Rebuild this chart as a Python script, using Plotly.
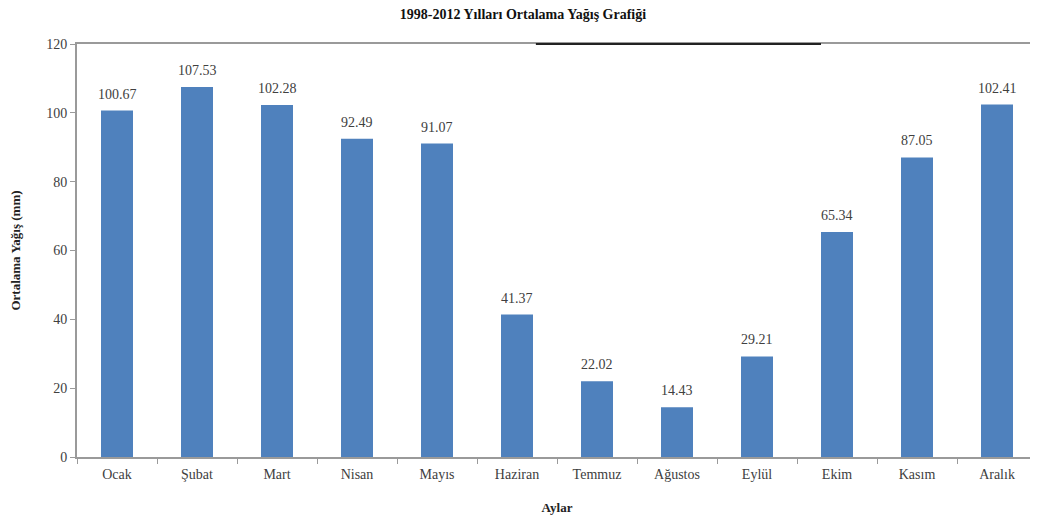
import plotly.graph_objects as go

months = ['Ocak', 'Şubat', 'Mart', 'Nisan', 'Mayıs', 'Haziran',
          'Temmuz', 'Ağustos', 'Eylül', 'Ekim', 'Kasım', 'Aralık']
rainfall = [100.67, 107.53, 102.28, 92.49, 91.07, 41.37,
            22.02, 14.43, 29.21, 65.34, 87.05, 102.41]
y_ticks = [0, 20, 40, 60, 80, 100, 120]

FONT = 'Liberation Serif'
TXT = '#404040'

fig = go.Figure()
fig.add_trace(go.Bar(
    x=months,
    y=rainfall,
    width=0.4,
    marker=dict(color='#4F81BD', line=dict(width=0)),
))

# value labels above each bar
for m, v in zip(months, rainfall):
    fig.add_annotation(x=m, y=v, text=f'{v:.2f}', showarrow=False,
                       yanchor='bottom', yshift=7,
                       font=dict(family=FONT, size=14, color=TXT))

# dark segment on the top border, as in the source image
fig.add_shape(type='line', xref='paper', yref='paper',
              x0=0.478, x1=0.775, y0=1, y1=1,
              line=dict(color='#222222', width=2))

# page body adds 8px margin, so the figure is a bit smaller than the window
fig.update_layout(
    width=1030, height=517,
    margin=dict(l=69, r=1, t=36, b=68, autoexpand=False),
    paper_bgcolor='white',
    plot_bgcolor='white',
    showlegend=False,
    title=dict(text='<b>1998-2012 Yılları Ortalama Yağış Grafiği</b>',
               x=0.5, xanchor='center', y=0.988, yanchor='middle',
               font=dict(family=FONT, size=14, color='#111111')),
    xaxis=dict(
        title=dict(text='<b>Aylar</b>', font=dict(family=FONT, size=13, color='#222222'),
                   standoff=22),
        tickfont=dict(family=FONT, size=14, color=TXT),
        ticklabelstandoff=3,
        showline=True, linecolor='#9a9a9a', linewidth=2, mirror=True,
        ticks='outside', tickson='boundaries', ticklen=5, tickcolor='#9a9a9a',
        showgrid=False, automargin=False,
    ),
    yaxis=dict(
        title=dict(text='<b>Ortalama Yağış (mm)</b>', font=dict(family=FONT, size=13, color='#222222'),
                   standoff=26),
        range=[0, 120],
        tickvals=y_ticks,
        tickfont=dict(family=FONT, size=14, color=TXT),
        showline=True, linecolor='#9a9a9a', linewidth=2,
        ticks='outside', ticklen=5, tickcolor='#9a9a9a',
        showgrid=False, zeroline=False, automargin=False,
    ),
)

fig.write_html('out.html')
